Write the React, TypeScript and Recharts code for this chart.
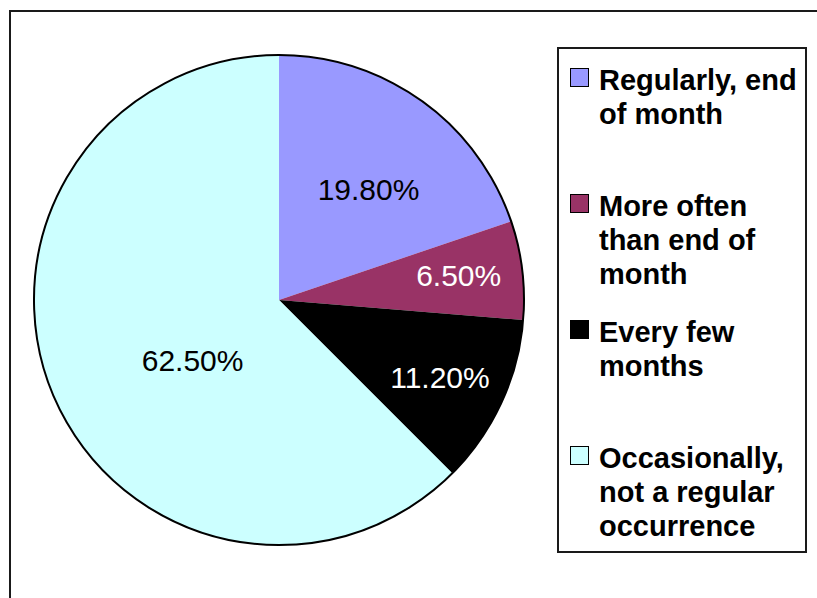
import React from "react";
import { PieChart, Pie, Cell, Legend } from "recharts";

const categories = [
  "Regularly, end of month",
  "More often than end of month",
  "Every few months",
  "Occasionally, not a regular occurrence",
];
const values = [19.8, 6.5, 11.2, 62.5];
const colors = ["#9999FF", "#993366", "#000000", "#CCFFFF"];
const labelColors = ["#000000", "#FFFFFF", "#FFFFFF", "#000000"];
const labelRadiusFactor = [0.58, 0.74, 0.73, 0.43];
const labelAngleOffset = [-3.4, 0.6, -1.0, 12.4];

const data = categories.map((name, i) => ({ name, value: values[i] }));
const outline = [{ name: "outline", value: 1 }];

const CX = 279;
const CY = 300;
const R = 245;
const RAD = Math.PI / 180;

const renderLabel = (props: any) => {
  const { cx, cy, midAngle, outerRadius, index } = props;
  const ang = (midAngle + labelAngleOffset[index]) * RAD;
  const r = outerRadius * labelRadiusFactor[index];
  const x = cx + r * Math.cos(ang);
  const y = cy - r * Math.sin(ang);
  return (
    <text
      x={x}
      y={y}
      fill={labelColors[index]}
      textAnchor="middle"
      dominantBaseline="central"
      fontFamily="'Liberation Sans', Arial, sans-serif"
      fontSize={30}
    >
      {values[index].toFixed(2) + "%"}
    </text>
  );
};

const LegendBox = () => (
  <div
    style={{
      width: 246,
      height: 502,
      border: "2px solid #1a1a1a",
      background: "#fff",
      boxSizing: "content-box",
      fontFamily: "'Liberation Sans', Arial, sans-serif",
      fontWeight: "bold",
      fontSize: 29,
      lineHeight: "34px",
      color: "#000",
      position: "relative",
    }}
  >
    {categories.map((c, i) => (
      <div
        key={c}
        style={{
          position: "absolute",
          left: 0,
          top: 14 + i * 126,
          width: 246,
          height: 126,
        }}
      >
        <div
          style={{
            position: "absolute",
            left: 11,
            top: 5,
            width: 17,
            height: 17,
            background: colors[i],
            border: "1.5px solid #000",
          }}
        />
        <div
          style={{
            position: "absolute",
            left: 40,
            top: 0,
            width: 206,
            textAlign: "left",
          }}
        >
          {c}
        </div>
      </div>
    ))}
  </div>
);

export default function App() {
  return (
    <div
      style={{
        position: "absolute",
        left: 0,
        top: 0,
        width: 817,
        height: 598,
        overflow: "hidden",
        background: "#fff",
      }}
    >
      <div
        style={{
          position: "absolute",
          left: 9,
          top: 10,
          width: 830,
          height: 620,
          border: "2px solid #1a1a1a",
        }}
      />
      <div style={{ position: "absolute", left: 0, top: 0 }}>
        <PieChart width={817} height={598} margin={{ top: 0, right: 0, bottom: 0, left: 0 }}>
          <Pie
            data={data}
            dataKey="value"
            nameKey="name"
            cx={CX}
            cy={CY}
            outerRadius={R}
            startAngle={90}
            endAngle={-270}
            stroke="none"
            isAnimationActive={false}
            label={renderLabel}
            labelLine={false}
          >
            {data.map((d, i) => (
              <Cell key={d.name} fill={colors[i]} stroke="none" />
            ))}
          </Pie>
          <Pie
            data={outline}
            dataKey="value"
            cx={CX}
            cy={CY}
            innerRadius={R}
            outerRadius={R}
            startAngle={90}
            endAngle={-270}
            fill="none"
            stroke="#000"
            strokeWidth={2}
            legendType="none"
            isAnimationActive={false}
          />
          <Legend
            layout="vertical"
            align="right"
            verticalAlign="top"
            content={() => <LegendBox />}
            wrapperStyle={{ left: 557, top: 47, width: 250 }}
          />
        </PieChart>
      </div>
    </div>
  );
}
